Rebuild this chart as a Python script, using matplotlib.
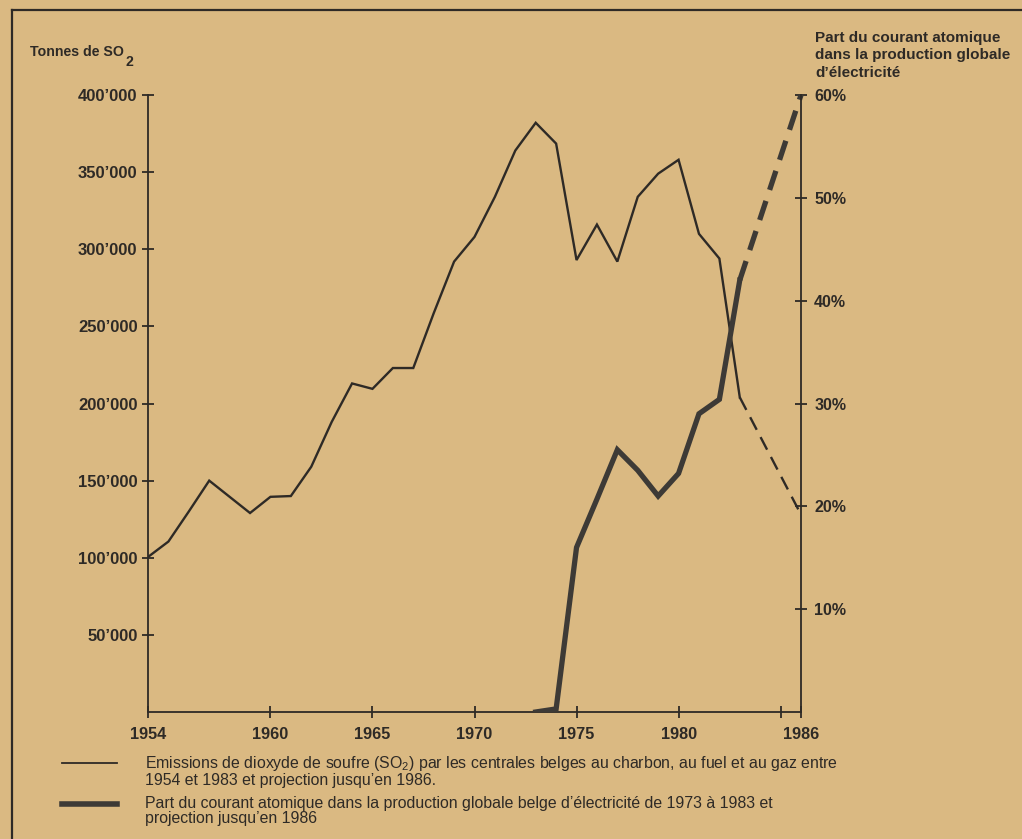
import matplotlib.pyplot as plt
from matplotlib.lines import Line2D

# SO2 emissions (thousand tonnes), measured 1954-1983
so2_years = list(range(1954, 1984))
so2_values = [100.5, 110.5, 130, 150, 139.5, 129, 139.5, 140, 159, 188,
              213, 209.5, 223, 223, 258.5, 292, 308, 334, 364, 382,
              368.5, 293, 316, 292, 334, 349, 358, 310, 294, 204]
so2_proj_years = [1983, 1986]
so2_proj_values = [204, 128]

# nuclear share of electricity production (%)
nuc_years = list(range(1973, 1984))
nuc_values = [0, 0.3, 16, 20.7, 25.5, 23.5, 21, 23.2, 29, 30.4, 42]
nuc_proj_years = [1983, 1986]
nuc_proj_values = [42, 60]

left_ticks = [50, 100, 150, 200, 250, 300, 350, 400]
left_labels = ["50\u2019000", "100\u2019000", "150\u2019000", "200\u2019000",
               "250\u2019000", "300\u2019000", "350\u2019000", "400\u2019000"]
right_ticks = [10, 20, 30, 40, 50, 60]
right_labels = ["10%", "20%", "30%", "40%", "50%", "60%"]
x_ticks = [1954, 1960, 1965, 1970, 1975, 1980, 1985, 1986]
x_labels = ["1954", "1960", "1965", "1970", "1975", "1980", "", "1986"]

bg = "#dab982"
ink = "#2e2a26"
bold_font = ["Liberation Sans", "DejaVu Sans"]
body_font = ["Liberation Sans", "DejaVu Sans"]

plt.rcParams["mathtext.fontset"] = "custom"
plt.rcParams["mathtext.rm"] = "Liberation Sans"

W, H = 1022, 839
fig = plt.figure(figsize=(W / 100, H / 100), dpi=100, facecolor=bg)
ax = fig.add_axes([148 / W, (H - 712) / H, (801 - 148) / W, 617 / H])
ax.set_facecolor(bg)
ax2 = ax.twinx()

ax.plot(so2_years, so2_values, color=ink, lw=1.7, solid_joinstyle="miter")
ax.plot(so2_proj_years, so2_proj_values, color=ink, lw=1.7,
        dashes=(6, 3.5), clip_on=False)

ax2.plot(nuc_years, nuc_values, color="#3d3a36", lw=3.8, solid_joinstyle="miter")
ax2.plot(nuc_proj_years, nuc_proj_values, color="#3d3a36", lw=3.8,
         dashes=(3.8, 2.2), clip_on=False)

ax.set_xlim(1954, 1986)
ax.set_ylim(0, 400)
ax2.set_ylim(0, 60)

for a in (ax, ax2):
    a.spines["top"].set_visible(False)
    for s in a.spines.values():
        s.set_color(ink)
        s.set_linewidth(1.3)
ax.spines["right"].set_visible(False)
ax2.spines["left"].set_visible(False)
ax2.spines["bottom"].set_visible(False)

ax.set_xticks(x_ticks)
ax.set_xticklabels(x_labels)
ax.set_yticks(left_ticks)
ax.set_yticklabels(left_labels)
ax2.set_yticks(right_ticks)
ax2.set_yticklabels(right_labels)

ax.tick_params(axis="y", direction="inout", length=9, width=1.3, color=ink,
               pad=3, labelsize=12, labelcolor=ink)
ax.tick_params(axis="x", direction="inout", length=9, width=1.3, color=ink,
               pad=6, labelsize=11.7, labelcolor=ink)
ax2.tick_params(axis="y", direction="inout", length=9, width=1.3, color=ink,
                pad=5, labelsize=11.5, labelcolor=ink)
for lab in ax.get_xticklabels() + ax.get_yticklabels() + ax2.get_yticklabels():
    lab.set_family(bold_font)
    lab.set_fontweight("bold")

# axis titles
fig.text(30 / W, 1 - 52 / H, "Tonnes de SO", fontsize=10.2, fontweight="bold",
         family=bold_font, color=ink, va="center")
fig.text(125 / W, 1 - 62 / H, "2", fontsize=10.2, fontweight="bold",
         family=bold_font, color=ink, va="center")
fig.text(815 / W, 1 - 31 / H,
         "Part du courant atomique\ndans la production globale\nd\u2019\u00e9lectricit\u00e9",
         fontsize=11, fontweight="bold", family=bold_font, color=ink,
         va="top", linespacing=1.3)

# frame of the figure
fig.add_artist(Line2D([12 / W, 12 / W], [0, 1 - 10 / H], color=ink, lw=1.6))
fig.add_artist(Line2D([12 / W, 1], [1 - 10 / H, 1 - 10 / H], color=ink, lw=1.6))

# legend
fig.add_artist(Line2D([62 / W, 117 / W], [1 - 763 / H] * 2, color=ink, lw=1.3))
fig.add_artist(Line2D([62 / W, 117 / W], [1 - 804 / H] * 2, color="#3d3a36", lw=4))
fig.text(145 / W, 1 - 771 / H,
         "Emissions de dioxyde de soufre (SO$_2$) par les centrales belges au charbon, "
         "au fuel et au gaz entre\n1954 et 1983 et projection jusqu\u2019en 1986.",
         fontsize=11.4, family=body_font, color=ink, va="center", linespacing=1.05)
fig.text(145 / W, 1 - 811 / H,
         "Part du courant atomique dans la production globale belge d\u2019\u00e9lectricit\u00e9 "
         "de 1973 \u00e0 1983 et\nprojection jusqu\u2019en 1986",
         fontsize=11.4, family=body_font, color=ink, va="center", linespacing=1.05)

fig.savefig("out.png", dpi=100, facecolor=bg)
